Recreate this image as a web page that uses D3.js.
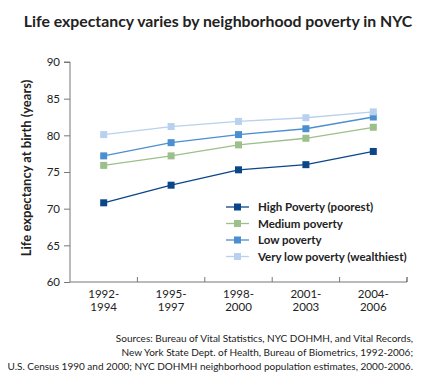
<!DOCTYPE html>
<html>
<head>
<meta charset="utf-8">
<script src="https://cdn.jsdelivr.net/npm/d3@7"></script>
<style>
  body { margin: 0; background: #fff; }
  svg text { font-family: "Lato", "DejaVu Sans", sans-serif; fill: #222; }
</style>
</head>
<body>
<div id="chart"></div>
<script>
// Data
const periods = [["1992-", "1994"], ["1995-", "1997"], ["1998-", "2000"], ["2001-", "2003"], ["2004-", "2006"]];
const seriesNames = ["High Poverty (poorest)", "Medium poverty", "Low poverty", "Very low poverty (wealthiest)"];
const highPoverty = [70.8, 73.2, 75.3, 76.0, 77.8];
const mediumPoverty = [75.9, 77.2, 78.7, 79.6, 81.1];
const lowPoverty = [77.2, 79.0, 80.1, 80.9, 82.5];
const veryLowPoverty = [80.1, 81.2, 81.9, 82.4, 83.2];
const yTicks = [60, 65, 70, 75, 80, 85, 90];
const colors = ["#0b4689", "#9dbf8b", "#4b8fd1", "#b7d1ee"];
const sources = [
  "Sources: Bureau of Vital Statistics, NYC DOHMH, and Vital Records,",
  "New York State Dept. of Health, Bureau of Biometrics, 1992-2006;",
  "U.S. Census 1990 and 2000; NYC DOHMH neighborhood population estimates, 2000-2006."
];

const W = 434, H = 392;
const margin = { top: 62, right: 27, bottom: 110, left: 70 };
const width = W - margin.left - margin.right;
const height = H - margin.top - margin.bottom;

const series = [highPoverty, mediumPoverty, lowPoverty, veryLowPoverty];

const svg = d3.select("#chart").append("svg")
  .attr("width", W)
  .attr("height", H);

// title
svg.append("text")
  .attr("x", 218)
  .attr("y", 27)
  .attr("text-anchor", "middle")
  .style("font-size", "15.8px")
  .style("font-weight", "bold")
  .text("Life expectancy varies by neighborhood poverty in NYC");

const g = svg.append("g").attr("transform", `translate(${margin.left},${margin.top})`);

const x = d3.scaleBand()
  .domain(d3.range(periods.length))
  .range([0, width]);

const y = d3.scaleLinear()
  .domain([60, 90])
  .range([height, 0]);

// y axis
const yAxis = g.append("g")
  .call(d3.axisLeft(y).tickValues(yTicks).tickSize(6).tickPadding(4));
yAxis.select(".domain").attr("stroke", "#777").attr("d", `M-6,0H0V${height}`);
yAxis.selectAll(".tick line").attr("stroke", "#777");
yAxis.selectAll(".tick text")
  .style("font-size", "11.5px")
  .style("font-family", "Lato, sans-serif")
  .attr("fill", "#333");

// x axis with ticks pointing up at band edges
const xAxis = g.append("g").attr("transform", `translate(0,${height})`);
xAxis.append("line")
  .attr("x1", 0).attr("x2", width)
  .attr("stroke", "#777");
xAxis.selectAll(".edge")
  .data(d3.range(1, periods.length + 1))
  .join("line")
  .attr("class", "edge")
  .attr("x1", d => d * x.bandwidth())
  .attr("x2", d => d * x.bandwidth())
  .attr("y1", 0).attr("y2", -5)
  .attr("stroke", (d, i) => i === periods.length - 1 ? "#333" : "#777");
const xl = xAxis.selectAll(".xlab")
  .data(periods)
  .join("text")
  .attr("class", "xlab")
  .attr("text-anchor", "middle")
  .style("font-size", "11.5px")
  .attr("fill", "#333");
xl.append("tspan").attr("x", (d, i) => x(i) + x.bandwidth() / 2).attr("y", 16).text(d => d[0]);
xl.append("tspan").attr("x", (d, i) => x(i) + x.bandwidth() / 2).attr("y", 29).text(d => d[1]);

// y axis label
svg.append("text")
  .attr("transform", `translate(31,168) rotate(-90)`)
  .attr("text-anchor", "middle")
  .style("font-size", "13px")
  .style("font-weight", "bold")
  .text("Life expectancy at birth (years)");

// lines and markers
const line = d3.line()
  .x((d, i) => x(i) + x.bandwidth() / 2)
  .y(d => y(d));

series.forEach((vals, s) => {
  g.append("path")
    .datum(vals)
    .attr("fill", "none")
    .attr("stroke", colors[s])
    .attr("stroke-width", 1.3)
    .attr("d", line);
  g.selectAll(".m" + s)
    .data(vals)
    .join("rect")
    .attr("class", "m" + s)
    .attr("x", (d, i) => x(i) + x.bandwidth() / 2 - 3.5)
    .attr("y", d => y(d) - 3.5)
    .attr("width", 7)
    .attr("height", 7)
    .attr("fill", colors[s]);
});

// legend
const legend = svg.append("g").attr("transform", "translate(226,207)");
seriesNames.forEach((name, i) => {
  const row = legend.append("g").attr("transform", `translate(0,${i * 16.5})`);
  row.append("line").attr("x1", 0).attr("x2", 23).attr("stroke", colors[i]).attr("stroke-width", 1.3);
  row.append("rect").attr("x", 8).attr("y", -3.5).attr("width", 7).attr("height", 7).attr("fill", colors[i]);
  row.append("text")
    .attr("x", 32)
    .attr("dy", "0.35em")
    .style("font-size", "11.5px")
    .style("font-weight", "bold")
    .text(name);
});

// sources note
svg.selectAll(".src")
  .data(sources)
  .join("text")
  .attr("class", "src")
  .attr("x", 413)
  .attr("y", (d, i) => 342 + i * 14)
  .attr("text-anchor", "end")
  .style("font-size", "10px")
  .text(d => d);
</script>
</body>
</html>
